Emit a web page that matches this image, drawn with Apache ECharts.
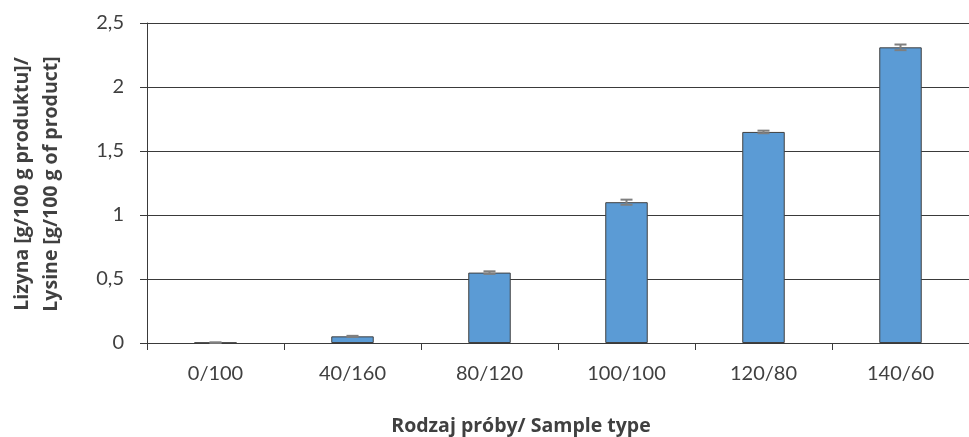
<!DOCTYPE html>
<html><head><meta charset="utf-8">
<script src="https://cdn.jsdelivr.net/npm/echarts@6/dist/echarts.min.js"></script>
<style>html,body{margin:0;padding:0;background:#fff}#c{width:969px;height:437px}</style>
</head><body><div id="c"></div>
<script>
const categories = ['0/100','40/160','80/120','100/100','120/80','140/60'];
const values = [0.003, 0.052, 0.55, 1.10, 1.649, 2.31];
const errors = [0.002, 0.004, 0.01, 0.02, 0.01, 0.022];
const yTicks = [0, 0.5, 1, 1.5, 2, 2.5];

const FONT = 'Lato';
const chart = echarts.init(document.getElementById('c'), null, {renderer:'canvas'});
chart.setOption({
  animation:false,
  grid:{left:147, right:-6, top:23, bottom:94, containLabel:false},
  xAxis:{type:'category', data:categories,
    axisLine:{lineStyle:{color:'#3a3a3a', width:1}},
    axisTick:{show:true, inside:false, length:7, lineStyle:{color:'#3a3a3a'}},
    axisLabel:{color:'#404040', fontFamily:FONT, fontSize:20, margin:21}},
  yAxis:{type:'value', min:0, max:2.5, interval:0.5,
    axisLine:{show:true, lineStyle:{color:'#3a3a3a', width:1}},
    axisTick:{show:true, length:7, lineStyle:{color:'#3a3a3a'}},
    splitLine:{lineStyle:{color:'#3a3a3a', width:1}},
    axisLabel:{color:'#404040', fontFamily:FONT, fontSize:20, margin:23,
      formatter:v=>String(v).replace('.',',')}},
  graphic:[
    {type:'text', x:521, y:426, style:{text:'Rodzaj próby/ Sample type', font:'bold 19.5px "Open Sans"', fill:'#404040', textAlign:'center', textVerticalAlign:'middle'}},
    {type:'text', x:36.5, y:184, rotation:Math.PI/2, style:{text:'Lizyna [g/100 g produktu]/\nLysine [g/100 g of product]', font:'bold 19.5px "Open Sans"', lineHeight:29, fill:'#404040', textAlign:'center', textVerticalAlign:'middle'}}
  ],
  series:[
    {type:'bar', data:values, barWidth:'31%',
      itemStyle:{color:'#5B9BD5', borderColor:'#404040', borderWidth:1}},
    {type:'custom', data:values.map((v,i)=>[i,v,errors[i]]), z:10,
      renderItem:(params, api)=>{
        const i=api.value(0), v=api.value(1), e=api.value(2);
        const hi=api.coord([i,v+e]), lo=api.coord([i,v-e]);
        const hw=6;
        const st={stroke:'#7f7f7f', lineWidth:2};
        return {type:'group', children:[
          {type:'line', shape:{x1:hi[0],y1:hi[1],x2:lo[0],y2:lo[1]}, style:st},
          {type:'line', shape:{x1:hi[0]-hw,y1:hi[1],x2:hi[0]+hw,y2:hi[1]}, style:st},
          {type:'line', shape:{x1:lo[0]-hw,y1:lo[1],x2:lo[0]+hw,y2:lo[1]}, style:st}
        ]};
      }}
  ]
});
</script></body></html>
